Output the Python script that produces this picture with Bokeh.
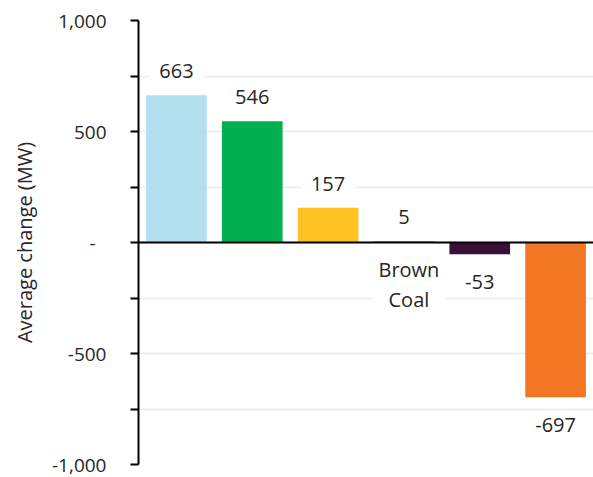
from bokeh.plotting import figure
from bokeh.models import ColumnDataSource, FactorRange, Range1d, FixedTicker, Span
from bokeh.core.properties import value
from bokeh.embed import file_html
from bokeh.resources import INLINE

# Average change in output by fuel type (MW)
fuels = ["Hydro", "Wind", "Solar", "Brown Coal", "Gas", "Black Coal"]
changes = [663, 546, 157, 5, -53, -697]
colors = ["#B3E0EF", "#00B050", "#FFC222", "#5A3A22", "#3B1038", "#F37722"]
value_labels = ["663", "546", "157", "5", "-53", "-697"]

# y-axis ticks and their printed labels (zero shown as an accounting dash)
y_ticks = [-1000, -750, -500, -250, 0, 250, 500, 750, 1000]
y_tick_labels = ["-1,000", "", "-500", "", "-\u2007", "", "500", "", "1,000"]

FONT = "Open Sans"
FS = "20px"
TICK_FS = "19px"
TEXT = "#262626"

pos_src = ColumnDataSource(dict(
    x=[f for f, v in zip(fuels, changes) if v >= 0],
    y=[v for v in changes if v >= 0],
    t=[t for t, v in zip(value_labels, changes) if v >= 0],
))
neg_src = ColumnDataSource(dict(
    x=[f for f, v in zip(fuels, changes) if v < 0],
    y=[v for v in changes if v < 0],
    t=[t for t, v in zip(value_labels, changes) if v < 0],
))
bar_src = ColumnDataSource(dict(x=fuels, top=changes, color=colors))

p = figure(
    width=593, height=477,
    x_range=FactorRange(factors=fuels, range_padding=0),
    y_range=Range1d(-1000, 1000),
    x_axis_location=None,
    output_backend="svg", toolbar_location=None,
    min_border_left=138, min_border_right=0,
    min_border_top=20, min_border_bottom=13,
)
p.outline_line_color = None
p.xgrid.grid_line_color = None

# horizontal gridlines every 250
p.yaxis.ticker = FixedTicker(ticks=y_ticks)
p.ygrid.ticker = FixedTicker(ticks=y_ticks)
p.ygrid.grid_line_color = "#EFEFEF"
p.ygrid.grid_line_width = 2

yax = p.yaxis[0]
yax.major_label_overrides = {t: l for t, l in zip(y_ticks, y_tick_labels)}
yax.minor_tick_line_color = None
yax.major_tick_in = 0
yax.major_tick_out = 8
yax.major_tick_line_color = "black"
yax.major_tick_line_width = 2
yax.axis_line_color = "black"
yax.axis_line_width = 2
yax.major_label_standoff = 24
yax.major_label_text_font = FONT
yax.major_label_text_font_size = TICK_FS
yax.major_label_text_color = TEXT
yax.axis_label = "Average change (MW)"
yax.axis_label_text_font = FONT
yax.axis_label_text_font_size = FS
yax.axis_label_text_font_style = "normal"
yax.axis_label_text_color = TEXT
yax.axis_label_standoff = 11

p.vbar(x="x", top="top", bottom=0, width=0.8, color="color",
       line_color=None, source=bar_src)

# baseline at zero
p.add_layout(Span(location=0, dimension="width", line_color="black",
                  line_width=2))

common = dict(x="x", y="y", text="t", text_font=value(FONT),
              text_font_size=FS, text_color=TEXT,
              text_align="center", text_baseline="middle",
              background_fill_color="white", padding=(10, 3))
p.text(source=pos_src, y_offset=-24, **common)
p.text(source=neg_src, y_offset=28, **common)

# category name shown beneath the brown coal bar
p.text(x=["Brown Coal"], y=[0], text=["Brown\nCoal"], x_offset=5, y_offset=42,
       text_font=value(FONT), text_font_size=FS, text_color=TEXT,
       text_align="center", text_baseline="middle", text_line_height=1.1,
       background_fill_color="white", padding=(6, 2))

open("out.html", "w").write(file_html(p, INLINE))
